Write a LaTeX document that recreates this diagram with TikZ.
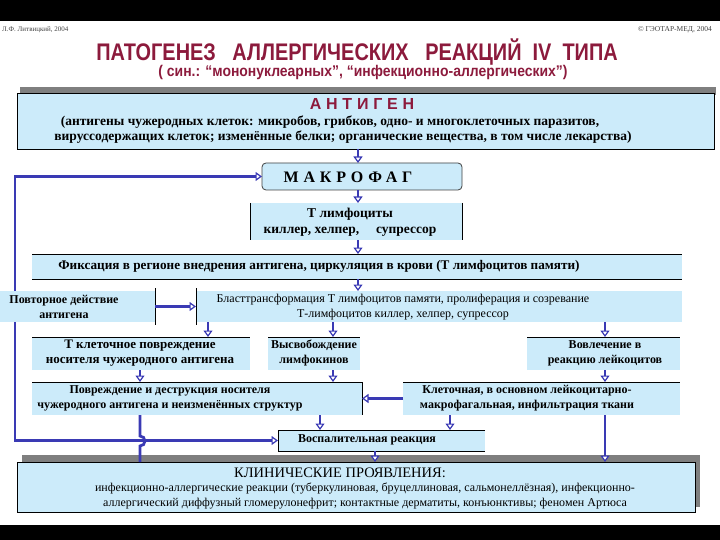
\documentclass[tikz,border=0pt]{standalone}
\usepackage{fontspec}
\setmainfont{Liberation Serif}
\newfontfamily\titlefont[FakeStretch=0.83]{Liberation Sans}
\newfontfamily\subtitlefont[FakeStretch=0.9]{Liberation Sans}
\newfontfamily\spacedsans[LetterSpace=30]{Liberation Sans}
\newfontfamily\spacedserif[LetterSpace=30]{Liberation Serif}
\usetikzlibrary{arrows.meta}
\definecolor{boxblue}{HTML}{CCEBFA}
\definecolor{titlered}{HTML}{8C1A3C}
\definecolor{arrowblue}{HTML}{3A3AB4}
\definecolor{shadowgray}{HTML}{7F7F7F}
\begin{document}
\begin{tikzpicture}[x=1pt,y=-1pt,>={Triangle[length=6.5pt,width=9pt,line width=1.2pt,fill=white]},
  box/.style={fill=boxblue,inner sep=0pt,outer sep=0pt,anchor=north west},
  txt/.style={inner sep=0pt,align=center,font=\fontsize{12}{15}\selectfont},
  btxt/.style={inner sep=0pt,align=center,font=\fontsize{12}{15}\selectfont\bfseries},
  arr/.style={->,draw=arrowblue,line width=2.8pt},
  rim/.style={draw=black,line width=0.8pt}]
\useasboundingbox (0,0) rectangle (720,540);
\fill[black] (0,0) rectangle (720,21);
\fill[black] (0,525) rectangle (720,540);
% header
\node[anchor=west,inner sep=0pt,text=darkgray,font=\fontsize{7}{8}\selectfont] (author) at (2,30) {Л.Ф. Литвицкий, 2004};
\node[anchor=east,inner sep=0pt,text=darkgray,font=\fontsize{7.5}{8}\selectfont] (publisher) at (712,30) {© ГЭОТАР-МЕД, 2004};
\node[text=titlered,font=\titlefont\bfseries\fontsize{24}{26}\selectfont] (title) at (357,52)
  {ПАТОГЕНЕЗ\ \ \ АЛЛЕРГИЧЕСКИХ\ \ \ РЕАКЦИЙ\ \ IV\ \ ТИПА};
\node[text=titlered,font=\subtitlefont\bfseries\fontsize{15.5}{17}\selectfont] (subtitle) at (363,72)
  {( син.: “мононуклеарных”, “инфекционно-аллергических”)};
% boxes
\fill[shadowgray] (20,87) rectangle (716,95);
\node[box,draw=black,line width=0.8pt,minimum width=697pt,minimum height=56pt] (antigen) at (17,93) {};
\node[box,draw=darkgray,rounded corners=4pt,line width=0.8pt,minimum width=200pt,minimum height=27pt] (macro) at (262,163) {};
\node[box,minimum width=212pt,minimum height=37pt] (tlymph) at (250,203) {};
\node[box,minimum width=650pt,minimum height=25pt] (fix) at (32,254) {};
\node[box,minimum width=155pt,minimum height=31pt] (repeat) at (0,291) {};
\node[box,minimum width=486pt,minimum height=31pt] (blast) at (196,291) {};
\node[box,minimum width=218pt,minimum height=33pt] (tdamage) at (32,337) {};
\node[box,minimum width=92pt,minimum height=33pt] (lymphok) at (268,337) {};
\node[box,minimum width=153pt,minimum height=33pt] (leuko) at (527,337) {};
\node[box,minimum width=330pt,minimum height=33pt] (destr) at (32,382) {};
\node[box,minimum width=277pt,minimum height=33pt] (infiltr) at (403,382) {};
\node[box,minimum width=207pt,minimum height=21pt] (inflam) at (278,430) {};
\fill[shadowgray] (22,455) rectangle (700,507);
\node[box,draw=black,line width=0.8pt,minimum width=678pt,minimum height=50pt] (clinical) at (17,462) {};
% partial borders
\draw[rim] (tlymph.north west) -- (tlymph.south west) (tlymph.north east) -- (tlymph.south east);
\draw[rim] (fix.north west) -- (fix.north east) (fix.south west) -- (fix.south east);
\draw[rim] ([yshift=3pt]repeat.north east) -- ([yshift=-3pt]repeat.south east);
\draw[rim] ([yshift=3pt]blast.north west) -- ([yshift=-3pt]blast.south west);
\foreach \b in {tdamage,lymphok,leuko,infiltr}
  \draw[rim] (\b.north west) -- (\b.north east);
\draw[rim] (destr.north west) -- (destr.north east) -- (destr.south east);
\draw[rim] (inflam.north east) -- (inflam.north west) -- (inflam.south west) -- (inflam.south east);
% columns of the connectors
\coordinate (colH) at (15,0);
\coordinate (colD) at (140,0);
\coordinate (colA) at (208,0);
\coordinate (colE) at (320,0);
\coordinate (colB) at (333,0);
\coordinate (colM) at (358,0);
\coordinate (colG) at (375,0);
\coordinate (colF) at (450,0);
\coordinate (colC) at (605,0);
% connectors
\draw[arr] (antigen.south -| colM) -- (macro.north -| colM);
\draw[arr] (macro.south -| colM) -- (tlymph.north -| colM);
\draw[arr] (tlymph.south -| colM) -- (fix.north -| colM);
\draw[arr] (fix.south -| colM) -- (blast.north -| colM);
\draw[arr] (repeat.east) -- (blast.west);
\foreach \c/\t in {colA/tdamage,colB/lymphok,colC/leuko}
  \draw[arr] (blast.south -| \c) -- (\t.north -| \c);
\draw[arr] (tdamage.south -| colD) -- (destr.north -| colD);
\draw[arr] (lymphok.south -| colB) -- (destr.north -| colB);
\draw[arr] (leuko.south -| colC) -- (infiltr.north -| colC);
\draw[arr] (infiltr.west) -- (destr.east);
\draw[arr] (repeat.north -| colH) |- (macro.west);
\draw[arr] (repeat.south -| colH) |- (inflam.west);
\draw[arr] (destr.south -| colE) -- (inflam.north -| colE);
\draw[arr] (infiltr.south -| colF) -- (inflam.north -| colF);
\draw[arr] (infiltr.south -| colC) -- (clinical.north -| colC);
\draw[arr] (inflam.south -| colG) -- (clinical.north -| colG);
\draw[arrowblue,line width=2.8pt] (destr.south -| colD) -- ++(0,21)
  arc[start angle=90,end angle=-90,radius=5pt] -- (clinical.north -| colD);
% texts
\node[text=titlered,font=\spacedsans\bfseries\fontsize{16}{18}\selectfont] (antigenT) at (362,104) {АНТИГЕН};
\node[btxt,font=\fontsize{13.5}{15}\selectfont\bfseries] (antigenL1) at (330,122) {(антигены чужеродных клеток: микробов, грибков, одно- и многоклеточных паразитов,};
\node[btxt,font=\fontsize{13.5}{15}\selectfont\bfseries] (antigenL2) at (343,137) {вируссодержащих клеток; изменённые белки; органические вещества, в том числе лекарства)};
\node[font=\spacedserif\bfseries\fontsize{16}{18}\selectfont] (macroT) at (348,177) {МАКРОФАГ};
\node[btxt,font=\fontsize{13.5}{16}\selectfont\bfseries] (tlymphT) at (350,222) {Т лимфоциты\\киллер, хелпер,\quad\ супрессор};
\node[btxt,font=\fontsize{13.2}{15}\selectfont\bfseries] (fixT) at (319,266) {Фиксация в регионе внедрения антигена, циркуляция в крови (Т лимфоцитов памяти)};
\node[btxt] (repeatT) at (64,307) {Повторное действие\\антигена};
\node[txt] (blastT) at (403,307) {Бласттрансформация Т лимфоцитов памяти, пролиферация и созревание\\Т-лимфоцитов киллер, хелпер, супрессор};
\node[btxt,font=\fontsize{13}{15}\selectfont\bfseries] (tdamageT) at (140,353) {Т клеточное повреждение\\носителя чужеродного антигена};
\node[btxt] (lymphokT) at (314,353) {Высвобождение\\лимфокинов};
\node[btxt] (leukoT) at (605,353) {Вовлечение в\\реакцию лейкоцитов};
\node[btxt] (destrT) at (170,398) {Повреждение и деструкция носителя\\чужеродного антигена и неизменённых структур};
\node[btxt] (infiltrT) at (527,398) {Клеточная, в основном лейкоцитарно-\\макрофагальная, инфильтрация ткани};
\node[btxt] (inflamT) at (367,440) {Воспалительная реакция};
\node[font=\fontsize{14.5}{16}\selectfont] (clinicalT) at (340,473) {КЛИНИЧЕСКИЕ ПРОЯВЛЕНИЯ:};
\node[txt] (clinicalL) at (365,496) {инфекционно-аллергические реакции (туберкулиновая, бруцеллиновая, сальмонеллёзная), инфекционно-\\аллергический диффузный гломерулонефрит; контактные дерматиты, конъюнктивы; феномен Артюса};
\end{tikzpicture}
\end{document}
